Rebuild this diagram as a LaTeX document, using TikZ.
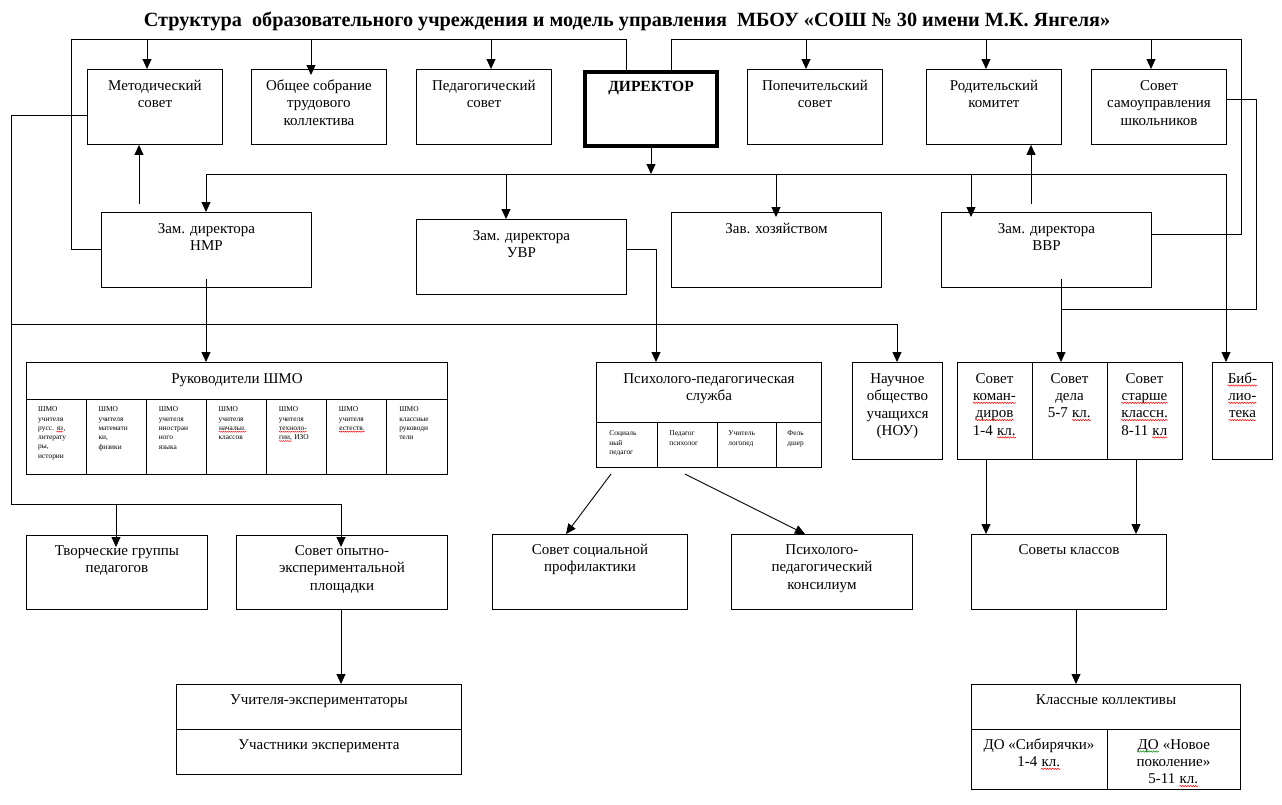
\documentclass[tikz,border=0pt]{standalone}
\usepackage{fontspec}
\setmainfont{Liberation Serif}
\usetikzlibrary{arrows.meta,calc,decorations.pathmorphing}
\newcommand\tf{\fontsize{15}{17.3}\selectfont}
\newcommand\smallf{\fontsize{7.4}{9.3}\selectfont}
\newcommand\sq[2][red]{\tikz[baseline=(sqw.base)]{\node[inner sep=0pt,anchor=base,draw=none,align=left] (sqw) {#2};
  \draw[#1,line width=0.5pt,decorate,decoration={snake,amplitude=0.7pt,segment length=2.6pt}] ([yshift=-2.2pt]sqw.base west) -- ([yshift=-2.2pt]sqw.base east);}}
\newcommand\ssq[1]{\tikz[baseline=(sqw.base)]{\node[inner sep=0pt,anchor=base,draw=none,align=left] (sqw) {#1};
  \draw[red,line width=0.4pt,decorate,decoration={snake,amplitude=0.5pt,segment length=2pt}] ([yshift=-1.4pt]sqw.base west) -- ([yshift=-1.4pt]sqw.base east);}}
\begin{document}
\begin{tikzpicture}[x=1pt,y=-1pt,line width=0.9pt,
  box/.style={draw,inner sep=0pt,anchor=north west},
  txt/.style={anchor=north,inner sep=0pt,align=center,font=\tf},
  stxt/.style={anchor=north west,inner sep=0pt,align=left,font=\smallf},
  arr/.style={-{Triangle[length=10pt,width=9pt]}}]
\useasboundingbox (0,0) rectangle (1282,804);
% title
\node[inner sep=0pt,font=\bfseries\fontsize{20.2}{24}\selectfont] (title) at (627,21)
  {Структура\hspace{5pt} образовательного учреждения и модель управления\hspace{5pt} МБОУ «СОШ № 30 имени М.К. Янгеля»};
% top row
\node[box,minimum width=135pt,minimum height=75pt] (met) at (87,69) {};
\node[box,minimum width=135pt,minimum height=75pt] (obs) at (251,69) {};
\node[box,minimum width=135pt,minimum height=75pt] (ped) at (416,69) {};
\node[box,line width=4pt,minimum width=132pt,minimum height=74pt] (dir) at (583,70) {};
\node[box,minimum width=135pt,minimum height=75pt] (pop) at (747,69) {};
\node[box,minimum width=135pt,minimum height=75pt] (rod) at (926,69) {};
\node[box,minimum width=135pt,minimum height=75pt] (ssh) at (1091,69) {};
\node[txt] (metT) at ($(met.north)+(0,9)$) {\strut Методический\\совет};
\node[txt] (obsT) at ($(obs.north)+(0,9)$) {\strut Общее собрание\\трудового\\коллектива};
\node[txt] (pedT) at ($(ped.north)+(0,9)$) {\strut Педагогический\\совет};
\node[txt,font=\fontsize{15.5}{17.3}\selectfont\bfseries] (dirT) at ($(dir.north)+(0,9)$) {\strut ДИРЕКТОР};
\node[txt] (popT) at ($(pop.north)+(0,9)$) {\strut Попечительский\\совет};
\node[txt] (rodT) at ($(rod.north)+(0,9)$) {\strut Родительский\\комитет};
\node[txt] (sshT) at ($(ssh.north)+(0,9)$) {\strut Совет\\самоуправления\\школьников};
% second row
\node[box,minimum width=210pt,minimum height=75pt] (nmr) at (101,212) {};
\node[box,minimum width=210pt,minimum height=75pt] (uvr) at (416,219) {};
\node[box,minimum width=210pt,minimum height=75pt] (zav) at (671,212) {};
\node[box,minimum width=210pt,minimum height=75pt] (vvr) at (941,212) {};
\node[txt] (nmrT) at ($(nmr.north)+(0,9)$) {\strut Зам. директора\\НМР};
\node[txt] (uvrT) at ($(uvr.north)+(0,9)$) {\strut Зам. директора\\УВР};
\node[txt] (zavT) at ($(zav.north)+(0,9)$) {\strut Зав. хозяйством};
\node[txt] (vvrT) at ($(vvr.north)+(0,9)$) {\strut Зам. директора\\ВВР};
% third row
\node[box,minimum width=421pt,minimum height=112pt] (shmo) at (26,362) {};
\draw ($(shmo.north west)+(0,37)$) -- ($(shmo.north east)+(0,37)$);
\foreach \i in {1,...,6} {\draw ($(shmo.north west)+({\i*60.14},37)$) -- ($(shmo.south west)+({\i*60.14},0)$);}
\node[txt] (shmoT) at ($(shmo.north)+(0,9)$) {\strut Руководители ШМО};
\node[stxt] (sh1) at ($(shmo.north west)+(12,43)$) {\strut ШМО\\учителя\\русс. \ssq{яз},\\литерату\\ры,\\истории};
\node[stxt] (sh2) at ($(shmo.north west)+(72.1,43)$) {\strut ШМО\\учителя\\математи\\ки,\\физики};
\node[stxt] (sh3) at ($(shmo.north west)+(132.3,43)$) {\strut ШМО\\учителя\\иностран\\ного\\языка};
\node[stxt] (sh4) at ($(shmo.north west)+(192.4,43)$) {\strut ШМО\\учителя\\\ssq{начальн.}\\классов};
\node[stxt] (sh5) at ($(shmo.north west)+(252.6,43)$) {\strut ШМО\\учителя\\\ssq{техноло-}\\\ssq{гии,} ИЗО};
\node[stxt] (sh6) at ($(shmo.north west)+(312.7,43)$) {\strut ШМО\\учителя\\\ssq{естеств.}};
\node[stxt] (sh7) at ($(shmo.north west)+(372.8,43)$) {\strut ШМО\\классные\\руководи\\тели};
\node[box,minimum width=225pt,minimum height=105pt] (pps) at (596,362) {};
\draw ($(pps.north west)+(0,60)$) -- ($(pps.north east)+(0,60)$);
\foreach \xx in {61,121,180} {\draw ($(pps.north west)+(\xx,60)$) -- ($(pps.south west)+(\xx,0)$);}
\node[txt] (ppsT) at ($(pps.north)+(0,9)$) {\strut Психолого-педагогическая\\служба};
\node[stxt] (pp1) at ($(pps.north west)+(13,67)$) {\strut Социаль\\ный\\педагог};
\node[stxt] (pp2) at ($(pps.north west)+(73,67)$) {\strut Педагог\\психолог};
\node[stxt] (pp3) at ($(pps.north west)+(132,67)$) {\strut Учитель\\логопед};
\node[stxt] (pp4) at ($(pps.north west)+(191,67)$) {\strut Фель\\дшер};
\node[box,minimum width=90pt,minimum height=97pt] (nou) at (852,362) {};
\node[txt] (nouT) at ($(nou.north)+(0,9)$) {\strut Научное\\общество\\учащихся\\(НОУ)};
\node[box,minimum width=225pt,minimum height=97pt] (sov) at (957,362) {};
\draw ($(sov.north west)+(75,0)$) -- ($(sov.south west)+(75,0)$);
\draw ($(sov.north west)+(150,0)$) -- ($(sov.south west)+(150,0)$);
\node[txt] (sov1) at ($(sov.north west)+(37.5,9)$) {\strut Совет\\\sq{коман-}\\\sq{диров}\\1-4 \sq{кл.}};
\node[txt] (sov2) at ($(sov.north west)+(112.5,9)$) {\strut Совет\\дела\\5-7 \sq{кл.}};
\node[txt] (sov3) at ($(sov.north west)+(187.5,9)$) {\strut Совет\\\sq{старше}\\\sq{классн.}\\8-11 \sq{кл}};
\node[box,minimum width=60pt,minimum height=97pt] (bib) at (1212,362) {};
\node[txt] (bibT) at ($(bib.north)+(0,9)$) {\strut \sq{Биб-}\\\sq{лио-}\\\sq{тека}};
% fourth row
\node[box,minimum width=181pt,minimum height=74pt] (tvo) at (26,535) {};
\node[box,minimum width=211pt,minimum height=74pt] (soe) at (236,535) {};
\node[box,minimum width=195pt,minimum height=75pt] (ssp) at (492,534) {};
\node[box,minimum width=181pt,minimum height=75pt] (ppk) at (731,534) {};
\node[box,minimum width=195pt,minimum height=75pt] (skl) at (971,534) {};
\node[txt] (tvoT) at ($(tvo.north)+(0,8)$) {\strut Творческие группы\\педагогов};
\node[txt] (soeT) at ($(soe.north)+(0,8)$) {\strut Совет опытно-\\экспериментальной\\площадки};
\node[txt] (sspT) at ($(ssp.north)+(0,8)$) {\strut Совет социальной\\профилактики};
\node[txt] (ppkT) at ($(ppk.north)+(0,8)$) {\strut Психолого-\\педагогический\\консилиум};
\node[txt] (sklT) at ($(skl.north)+(0,8)$) {\strut Советы классов};
% fifth row
\node[box,minimum width=285pt,minimum height=90pt] (uch) at (176,684) {};
\draw ($(uch.north west)+(0,45)$) -- ($(uch.north east)+(0,45)$);
\node[txt] (uchT1) at ($(uch.north)+(0,8)$) {\strut Учителя-экспериментаторы};
\node[txt] (uchT2) at ($(uch.north)+(0,53)$) {\strut Участники эксперимента};
\node[box,minimum width=269pt,minimum height=105pt] (kk) at (971,684) {};
\draw ($(kk.north west)+(0,45)$) -- ($(kk.north east)+(0,45)$);
\draw ($(kk.north west)+(136,45)$) -- ($(kk.south west)+(136,0)$);
\node[txt] (kkT) at ($(kk.north)+(0,8)$) {\strut Классные коллективы};
\node[txt] (kk1) at ($(kk.north west)+(68,53)$) {\strut ДО «Сибирячки»\\1-4 \sq{кл.}};
\node[txt] (kk2) at ($(kk.north west)+(202.5,53)$) {\strut \sq[green!55!black]{ДО} «Новое\\поколение»\\5-11 \sq{кл.}};
% connector coordinates
\coordinate (jA) at (626,39); \coordinate (jB) at (71,39); \coordinate (jC) at (71,249);
\coordinate (a1) at (147,39); \coordinate (a2) at (311,39); \coordinate (a3) at (491,39);
\coordinate (r1) at (671,39); \coordinate (r2) at (1241,39); \coordinate (r3) at (1241,234);
\coordinate (a4) at (806,39); \coordinate (a5) at (986,39); \coordinate (a6) at (1151,39);
\coordinate (s1) at (1256,99); \coordinate (s2) at (1256,309); \coordinate (s3) at (1061,309);
\coordinate (b0) at (206,174); \coordinate (b1) at (1226,174);
\coordinate (b2) at (506,174); \coordinate (b3) at (776,174); \coordinate (b4) at (971,174);
\coordinate (m1) at (139,204); \coordinate (p1) at (1031,204);
\coordinate (v1) at (1061,279); \coordinate (n1) at (206,279);
\coordinate (u1) at (656,249);
\coordinate (l1) at (11,115); \coordinate (l2) at (11,504); \coordinate (l3) at (341,504); \coordinate (l4) at (116,504);
\coordinate (h1) at (11,324); \coordinate (h2) at (897,324);
\coordinate (q1) at (611,474); \coordinate (q2) at (566,534);
\coordinate (q3) at (685,474); \coordinate (q4) at (805,534);
\coordinate (k1) at (986,459); \coordinate (k2) at (1136,459);
\coordinate (k3) at (1076,609); \coordinate (k4) at (341,609);
% connectors
\draw (dir.north west -| jA) -- (jA) -- (jB) -- (jC) -- (jC -| nmr.west);
\draw[arr] (a1) -- (a1 |- met.north);
\draw[arr] (a2) -- ($(a2 |- obs.north)+(0,6)$);
\draw[arr] (a3) -- (a3 |- ped.north);
\draw (dir.north west -| r1) -- (r1) -- (r2) -- (r3) -- (r3 -| vvr.east);
\draw[arr] (a4) -- (a4 |- pop.north);
\draw[arr] (a5) -- (a5 |- rod.north);
\draw[arr] (a6) -- (a6 |- ssh.north);
\draw (s1 -| ssh.east) -- (s1) -- (s2) -- (s3);
\draw[arr] (dir.south) -- (dir.south |- b0);
\draw[arr] (b0) -- (b1) -- (b1 |- bib.north);
\draw[arr] (b0) -- (b0 |- nmr.north);
\draw[arr] (b2) -- (b2 |- uvr.north);
\draw[arr] (b3) -- ($(b3 |- zav.north)+(0,5)$);
\draw[arr] (b4) -- ($(b4 |- vvr.north)+(0,5)$);
\draw[arr] (m1) -- (m1 |- met.south);
\draw[arr] (p1) -- (p1 |- rod.south);
\draw[arr] (v1) -- (v1 |- sov.north);
\draw[arr] (n1) -- (n1 |- shmo.north);
\draw[arr] (u1 -| uvr.east) -- (u1) -- (u1 |- pps.north);
\draw (l1 -| met.west) -- (l1) -- (l2) -- (l3);
\draw[arr] (l3) -- ($(l3 |- soe.north)+(0,12)$);
\draw[arr] (l4) -- ($(l4 |- tvo.north)+(0,12)$);
\draw[arr] (h1) -- (h2) -- (h2 |- nou.north);
\draw[arr] (q1) -- (q2);
\draw[arr] (q3) -- (q4);
\draw[arr] (k1) -- (k1 |- skl.north);
\draw[arr] (k2) -- (k2 |- skl.north);
\draw[arr] (k3) -- (k3 |- kk.north);
\draw[arr] (k4) -- (k4 |- uch.north);
\end{tikzpicture}
\end{document}
